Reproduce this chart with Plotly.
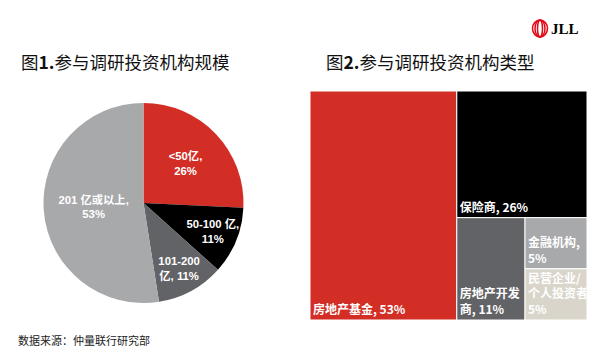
import plotly.graph_objects as go

# ---- data ----
pie_labels = ["<50亿", "50-100 亿", "101-200 亿", "201 亿或以上"]
pie_values = [26, 11, 11, 53]
pie_text = ["<50亿,<br>26%", "50-100 亿,<br>11%", "101-200<br>亿, 11%", "201 亿或以上,<br>53%"]
pie_colors = ["#D22E26", "#000000", "#626366", "#A8A9AB"]

tm_labels = ["房地产基金", "保险商", "房地产开发商", "金融机构", "民营企业/个人投资者"]
tm_values = [53, 26, 11, 5, 5]
tm_text = ["房地产基金, 53%", "保险商, 26%", "房地产开发<br>商, 11%", "金融机构,<br>5%", "民营企业/<br>个人投资者,<br>5%"]
tm_colors = ["#D22E26", "#000000", "#626366", "#A8A9AB", "#D9D5CB"]

title1 = "图<b>1.</b>参与调研投资机构规模"
title2 = "图<b>2.</b>参与调研投资机构类型"
source = "数据来源：仲量联行研究部"

W, H = 600, 362
OFF = 8  # page body margin
CJK = "Noto Sans CJK SC"


def px(x):
    return (x - OFF) / W


def py(y):
    return (H - (y - OFF)) / H


fig = go.Figure()

fig.add_trace(go.Pie(
    labels=pie_labels, values=pie_values, text=pie_text,
    textinfo="text", textposition="inside", insidetextorientation="horizontal",
    sort=False, direction="clockwise", rotation=0,
    marker=dict(colors=pie_colors, line=dict(width=0)),
    textfont=dict(family="Liberation Sans, " + CJK, size=12, color="white", weight="bold"),
    domain=dict(x=[px(43), px(244)], y=[py(303), py(103)]),
    showlegend=False, hoverinfo="label+percent",
))

fig.add_trace(go.Treemap(
    labels=tm_labels, parents=[""] * len(tm_labels), values=tm_values,
    text=tm_text, texttemplate="%{text}", textposition="bottom left",
    marker=dict(colors=tm_colors, line=dict(width=1, color="white"),
                pad=dict(t=0, l=0, r=0, b=0)),
    textfont=dict(family=CJK, size=12, color="white", weight="bold"),
    tiling=dict(packing="squarify", pad=0),
    pathbar=dict(visible=False),
    domain=dict(x=[px(310), px(587)], y=[py(320), py(91)]),
    sort=True,
))

fig.add_annotation(x=px(19), y=py(62), xref="paper", yref="paper", xanchor="left", yanchor="middle",
                   text=title1, showarrow=False, font=dict(family=CJK, size=17.5, color="#111111"))
fig.add_annotation(x=px(324), y=py(62), xref="paper", yref="paper", xanchor="left", yanchor="middle",
                   text=title2, showarrow=False, font=dict(family=CJK, size=17.5, color="#111111"))
fig.add_annotation(x=px(16), y=py(340), xref="paper", yref="paper", xanchor="left", yanchor="middle",
                   text=source, showarrow=False, font=dict(family=CJK, size=11, color="#222222"))

# JLL logo
fig.add_annotation(x=px(549), y=py(29), xref="paper", yref="paper", xanchor="left", yanchor="middle",
                   text="<b>JLL</b>", showarrow=False, font=dict(family="Liberation Serif", size=15, color="#000000"))
for dx in [2.5, 5.0, 7.5]:
    fig.add_shape(type="circle", xref="paper", yref="paper",
                  x0=px(540 - dx), x1=px(540 + dx), y0=py(37), y1=py(20),
                  line=dict(color="#E30613", width=1.5))

fig.update_layout(width=W, height=H, margin=dict(l=0, r=0, t=0, b=0),
                  paper_bgcolor="white", plot_bgcolor="white",
                  uniformtext=dict(minsize=10.5, mode="show"))

fig.write_html("out.html")
